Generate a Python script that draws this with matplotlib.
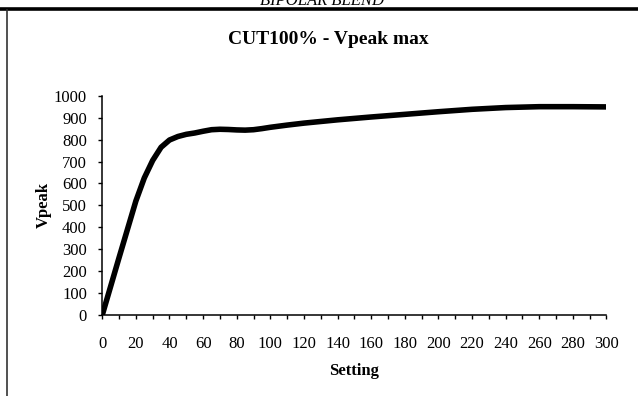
import matplotlib
matplotlib.use("Agg")
import matplotlib.pyplot as plt
from matplotlib.lines import Line2D
from matplotlib.ticker import MultipleLocator

setting = [0, 10, 20, 25, 30, 35, 40, 45, 50, 55, 60, 65, 70, 75, 80, 85, 90, 95, 100, 110, 120, 140, 160, 180, 200, 220, 240, 260, 280, 300]
vpeak = [0, 262, 520, 625, 705, 765, 798, 814, 824, 830, 838, 845, 847, 846, 844, 843, 845, 850, 856, 866, 875, 890, 903, 915, 927, 938, 946, 950, 950, 949]
title = "CUT100% - Vpeak max"
header = "BIPOLAR BLEND"
xlabel = "Setting"
ylabel = "Vpeak"

plt.rcParams['font.family'] = ['Liberation Serif', 'DejaVu Serif']

fig = plt.figure(figsize=(6.38, 3.96), dpi=100)
ax = fig.add_axes([0.1603, 0.2045, 0.7903, 0.5538])
ax.plot(setting, vpeak, color='black', lw=4.0, solid_joinstyle='round', solid_capstyle='butt')
ax.set_xlim(0, 300)
ax.set_ylim(0, 1000)
ax.xaxis.set_major_locator(MultipleLocator(20))
ax.xaxis.set_minor_locator(MultipleLocator(10))
ax.yaxis.set_major_locator(MultipleLocator(100))
for s in ['top', 'right']:
    ax.spines[s].set_visible(False)
for s in ['left', 'bottom']:
    ax.spines[s].set_linewidth(1.1)
ax.tick_params(axis='both', which='both', direction='out', length=3, width=1, labelsize=12, colors='black')
ax.tick_params(axis='x', pad=12)
ax.tick_params(axis='y', pad=8)
ax.set_xlabel(xlabel, fontsize=12, fontweight='bold', labelpad=8)
ax.set_ylabel(ylabel, fontsize=12, fontweight='bold', labelpad=1.5)
fig.text(328/638, 1 - 39/396, title, fontsize=14, fontweight='bold', ha='center', va='center')

# page decorations (scanned document frame)
fig.add_artist(Line2D([0, 1], [1 - 8.5/396, 1 - 8.5/396], transform=fig.transFigure, color='black', lw=2.6))
fig.add_artist(Line2D([7/638, 7/638], [0, 1 - 10/396], transform=fig.transFigure, color='#333333', lw=1.2))
fig.text(322/638, 1 - 1/396, header, fontsize=12, fontstyle='italic', ha='center', va='center')

fig.savefig("out.png", dpi=100)
